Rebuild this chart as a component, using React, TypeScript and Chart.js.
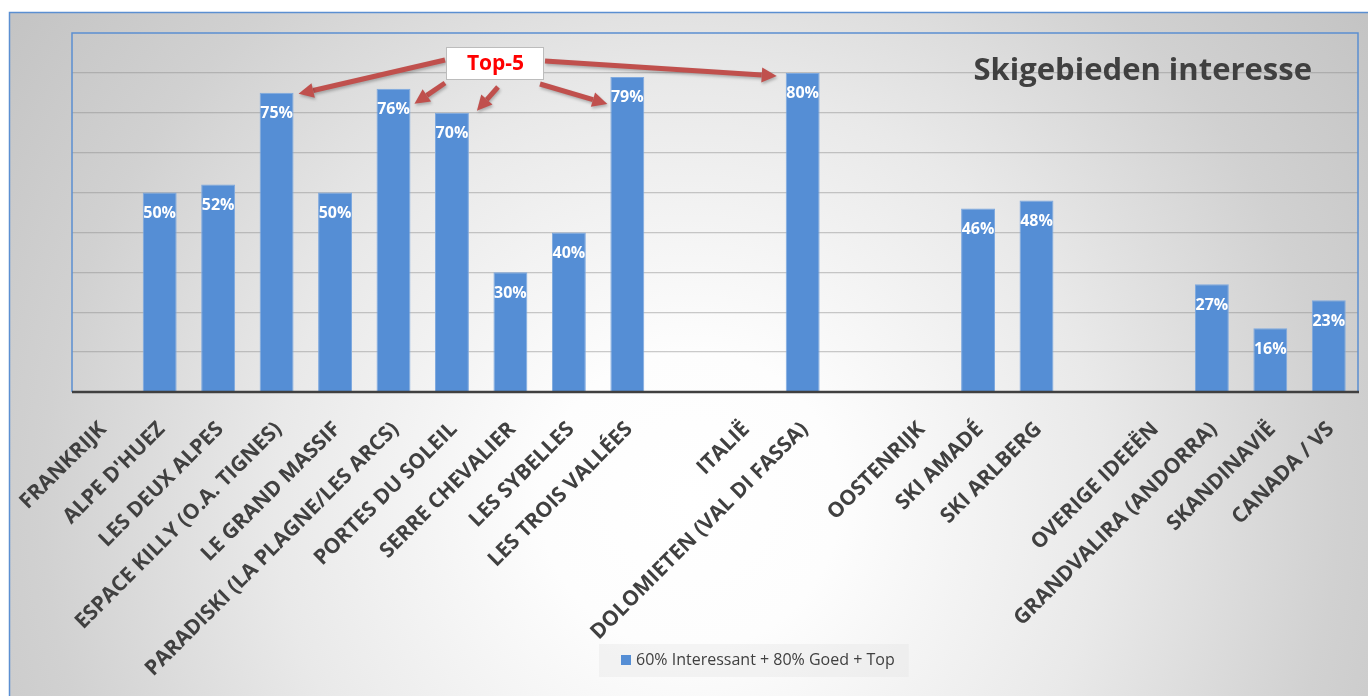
import React, { useEffect, useRef } from 'react';
import { Chart, registerables } from 'chart.js';

Chart.register(...registerables);

const categories: string[] = [
  'FRANKRIJK',
  "ALPE D'HUEZ",
  'LES DEUX ALPES',
  'ESPACE KILLY (O.A. TIGNES)',
  'LE GRAND MASSIF',
  'PARADISKI (LA PLAGNE/LES ARCS)',
  'PORTES DU SOLEIL',
  'SERRE CHEVALIER',
  'LES SYBELLES',
  'LES TROIS VALLÉES',
  '',
  'ITALIË',
  'DOLOMIETEN (VAL DI FASSA)',
  '',
  'OOSTENRIJK',
  'SKI AMADÉ',
  'SKI ARLBERG',
  '',
  'OVERIGE IDEEËN',
  'GRANDVALIRA (ANDORRA)',
  'SKANDINAVIË',
  'CANADA / VS',
];

const interestValues: (number | null)[] = [
  null, 50, 52, 75, 50, 76, 70, 30, 40, 79, null, null, 80, null, null, 46, 48, null, null, 27, 16, 23,
];

const seriesLabel = '60% Interessant + 80% Goed + Top';
const chartTitle = 'Skigebieden interesse';
const calloutText = 'Top-5';
const top5Indices = [3, 5, 6, 9, 12];
const yMin = 0;
const yMax = 90;
const yStep = 10;

const BAR_COLOR = '#558ed5';
const TEXT_COLOR = '#404040';
const FRAME_BLUE = '#5b8fd1';
const ARROW_RED = '#c0504d';

function drawArrow(ctx: CanvasRenderingContext2D, x1: number, y1: number, x2: number, y2: number) {
  const ang = Math.atan2(y2 - y1, x2 - x1);
  const headLen = 15;
  const headHalf = 7.5;
  const bx = x2 - headLen * Math.cos(ang);
  const by = y2 - headLen * Math.sin(ang);
  ctx.beginPath();
  ctx.moveTo(x1, y1);
  ctx.lineTo(bx, by);
  ctx.lineWidth = 5;
  ctx.lineCap = 'butt';
  ctx.strokeStyle = ARROW_RED;
  ctx.stroke();
  ctx.beginPath();
  ctx.moveTo(x2, y2);
  ctx.lineTo(bx + headHalf * Math.sin(ang), by - headHalf * Math.cos(ang));
  ctx.lineTo(bx - headHalf * Math.sin(ang), by + headHalf * Math.cos(ang));
  ctx.closePath();
  ctx.fillStyle = ARROW_RED;
  ctx.fill();
}

const backgroundPlugin = {
  id: 'slideBackground',
  beforeDraw(chart: any) {
    const { ctx, width, height } = chart;
    ctx.save();
    ctx.fillStyle = '#ffffff';
    ctx.fillRect(0, 0, width, height);
    const g = ctx.createRadialGradient(690, 500, 0, 690, 500, 830);
    g.addColorStop(0, '#ffffff');
    g.addColorStop(0.18, '#fdfdfd');
    g.addColorStop(0.5, '#e9e9e9');
    g.addColorStop(0.78, '#d1d1d1');
    g.addColorStop(1, '#c4c4c4');
    ctx.fillStyle = g;
    ctx.fillRect(9, 12, width, height);
    ctx.strokeStyle = FRAME_BLUE;
    ctx.lineWidth = 1.5;
    ctx.strokeRect(9.5, 12.5, width + 20, height + 20);
    ctx.restore();
  },
};

const overlayPlugin = {
  id: 'overlay',
  afterDatasetsDraw(chart: any) {
    const { ctx, chartArea } = chart;
    const { left, right, top, bottom } = chartArea;
    ctx.save();
    // plot area frame
    ctx.strokeStyle = FRAME_BLUE;
    ctx.lineWidth = 1.5;
    ctx.beginPath();
    ctx.moveTo(left, bottom);
    ctx.lineTo(left, top);
    ctx.lineTo(right, top);
    ctx.lineTo(right, bottom);
    ctx.stroke();
    // category axis line
    ctx.strokeStyle = TEXT_COLOR;
    ctx.lineWidth = 2.5;
    ctx.beginPath();
    ctx.moveTo(left, bottom);
    ctx.lineTo(right + 1, bottom);
    ctx.stroke();

    // data labels
    const meta = chart.getDatasetMeta(0);
    ctx.fillStyle = '#ffffff';
    ctx.font = 'bold 16px "Open Sans"';
    ctx.textAlign = 'center';
    ctx.textBaseline = 'middle';
    meta.data.forEach((bar: any, i: number) => {
      const v = interestValues[i];
      if (v === null || v === undefined) return;
      ctx.fillText(`${v}%`, bar.x, bar.y + 21);
    });
    ctx.restore();
  },
  afterDraw(chart: any) {
    const { ctx, chartArea } = chart;
    const { left, right, top } = chartArea;
    ctx.save();

    // title inside plot area
    ctx.fillStyle = TEXT_COLOR;
    ctx.font = 'bold 31px "Open Sans"';
    ctx.textAlign = 'right';
    ctx.textBaseline = 'middle';
    ctx.fillText(chartTitle, right - 46, top + 38);

    // legend
    const legendX = 599;
    const legendY = 644;
    ctx.font = '16px "Open Sans"';
    const tw = ctx.measureText(seriesLabel).width;
    const legendW = 22 + 10 + 5 + tw + 14;
    ctx.fillStyle = 'rgba(225,225,225,0.35)';
    ctx.fillRect(legendX, legendY, legendW, 33);
    ctx.fillStyle = BAR_COLOR;
    ctx.fillRect(legendX + 22, legendY + 11, 10, 10);
    ctx.fillStyle = TEXT_COLOR;
    ctx.textAlign = 'left';
    ctx.textBaseline = 'middle';
    ctx.fillText(seriesLabel, legendX + 37, legendY + 16.5);

    // callout box
    const meta = chart.getDatasetMeta(0);
    const bx = left + 374;
    const by = top + 14;
    const bw = 97;
    const bh = 32;

    ctx.save();
    ctx.shadowColor = 'rgba(0,0,0,0.25)';
    ctx.shadowBlur = 3;
    ctx.shadowOffsetX = 1;
    ctx.shadowOffsetY = 2;
    const bars = top5Indices.map((i) => meta.data[i]);
    const tip = (k: number) => {
      const b = bars[k];
      const hw = b.width / 2;
      switch (k) {
        case 0: return [b.x + hw + 5, b.y + 1];
        case 1: return [b.x + hw + 4, b.y + 15];
        case 2: return [b.x + hw + 8, b.y - 2];
        case 3: return [b.x - hw - 3, b.y + 27];
        default: return [b.x - hw - 9, b.y + 3];
      }
    };
    const starts = [
      [bx - 1, by + 13],
      [bx - 1, by + bh + 4],
      [bx + 52, by + bh + 8],
      [bx + bw - 3, by + bh + 5],
      [bx + bw + 2, by + 14],
    ];
    starts.forEach((s, k) => {
      const [tx, ty] = tip(k);
      drawArrow(ctx, s[0], s[1], tx, ty);
    });
    ctx.restore();

    ctx.fillStyle = '#ffffff';
    ctx.fillRect(bx, by, bw, bh);
    ctx.strokeStyle = '#bcbcbc';
    ctx.lineWidth = 1;
    ctx.strokeRect(bx + 0.5, by + 0.5, bw, bh);
    ctx.fillStyle = '#ff0000';
    ctx.font = 'bold 21px "Open Sans"';
    ctx.textAlign = 'center';
    ctx.textBaseline = 'middle';
    ctx.fillText(calloutText, bx + bw / 2 + 1, by + bh / 2 + 1);

    ctx.restore();
  },
};

export default function App() {
  const canvasRef = useRef<HTMLCanvasElement | null>(null);

  useEffect(() => {
    const canvas = canvasRef.current;
    if (!canvas) return;
    const chart = new Chart(canvas, {
      type: 'bar',
      data: {
        labels: categories,
        datasets: [
          {
            label: seriesLabel,
            data: interestValues,
            backgroundColor: BAR_COLOR,
            borderColor: '#7ea9df',
            borderWidth: 1,
            categoryPercentage: 1,
            barPercentage: 0.58,
          },
        ],
      },
      options: {
        responsive: false,
        animation: false,
        devicePixelRatio: 1,
        layout: { padding: { top: 33, right: 10, bottom: 0, left: 0 } },
        plugins: {
          legend: { display: false },
          title: { display: false },
          tooltip: { enabled: false },
        },
        scales: {
          x: {
            grid: { display: false },
            border: { display: false },
            ticks: {
              autoSkip: false,
              maxRotation: 45,
              minRotation: 45,
              padding: 17,
              labelOffset: 2,
              color: TEXT_COLOR,
              font: { family: '"Open Sans"', weight: 'bold', size: 21 },
            },
            afterFit(scale: any) {
              scale.height = 304;
              scale.paddingLeft = 0;
              scale.paddingRight = 0;
            },
          },
          y: {
            min: yMin,
            max: yMax,
            ticks: { display: false, stepSize: yStep },
            border: { display: false },
            grid: {
              drawTicks: false,
              lineWidth: 1.3,
              color: (c: any) =>
                c.tick && (c.tick.value === yMin || c.tick.value === yMax)
                  ? 'rgba(0,0,0,0)'
                  : 'rgba(140,140,140,0.45)',
            },
            afterFit(scale: any) {
              scale.width = 72;
              scale.paddingTop = 0;
              scale.paddingBottom = 0;
            },
          },
        },
      },
      plugins: [backgroundPlugin, overlayPlugin],
    });
    return () => chart.destroy();
  }, []);

  return (
    <div style={{ position: 'fixed', left: 0, top: 0, width: 1368, height: 696 }}>
      <canvas ref={canvasRef} width={1368} height={696} style={{ width: 1368, height: 696, display: 'block' }} />
    </div>
  );
}
